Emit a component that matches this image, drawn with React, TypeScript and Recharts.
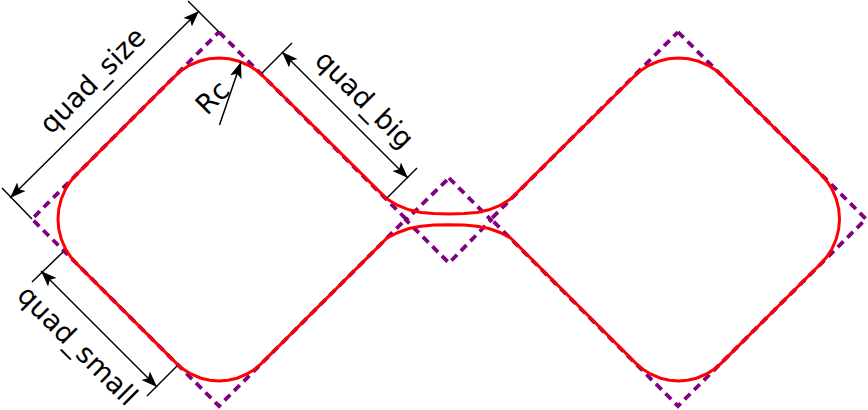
import { ComposedChart, Line, XAxis, YAxis } from 'recharts';

// everything is in picture units, y grows downward
type Pt = { x: number; y: number };

const quadLeft: Pt[] = [
  { x: 219, y: 32 }, { x: 406, y: 219 }, { x: 219, y: 406 }, { x: 32, y: 219 }, { x: 219, y: 32 },
];
const quadMiddle: Pt[] = [
  { x: 449, y: 178 }, { x: 491, y: 220 }, { x: 449, y: 263 }, { x: 406, y: 220 }, { x: 449, y: 178 },
];
const quadRight: Pt[] = [
  { x: 678, y: 32 }, { x: 866, y: 219 }, { x: 678, y: 406 }, { x: 491, y: 219 }, { x: 678, y: 32 },
];

// the outline, read clockwise from the top of the neck going left
const outline: Pt[] = [
  { x: 449, y: 214 }, { x: 434, y: 213.6 }, { x: 421, y: 212.4 }, { x: 409, y: 209.8 }, { x: 398, y: 205.5 }, { x: 387, y: 199 },
  { x: 263.5, y: 76.5 }, { x: 257, y: 70.8 }, { x: 249, y: 65.6 }, { x: 239, y: 61.3 }, { x: 229, y: 58.8 }, { x: 219, y: 58 },
  { x: 209, y: 58.8 }, { x: 199, y: 61.3 }, { x: 189, y: 65.6 }, { x: 181, y: 70.8 }, { x: 174.5, y: 76.5 },
  { x: 76.5, y: 174.5 }, { x: 70.8, y: 181 }, { x: 65.6, y: 189 }, { x: 61.3, y: 199 }, { x: 58.8, y: 209 }, { x: 58, y: 219 },
  { x: 58.8, y: 229 }, { x: 61.3, y: 239 }, { x: 65.6, y: 249 }, { x: 70.8, y: 257 }, { x: 76.5, y: 263.5 },
  { x: 176.5, y: 363.4 }, { x: 183, y: 369 }, { x: 191, y: 374 }, { x: 201, y: 378.2 }, { x: 210, y: 380.3 }, { x: 219, y: 381 },
  { x: 228, y: 380.3 }, { x: 237, y: 378.2 }, { x: 247, y: 374 }, { x: 255, y: 369 }, { x: 261.5, y: 363.4 },
  { x: 387, y: 238 }, { x: 398, y: 232.5 }, { x: 409, y: 228.5 }, { x: 421, y: 226.2 }, { x: 434, y: 225 }, { x: 449, y: 224.8 },
  { x: 464, y: 225 }, { x: 477, y: 226.2 }, { x: 489, y: 228.5 }, { x: 500, y: 232.5 }, { x: 510.5, y: 238 },
  { x: 636, y: 363.4 }, { x: 642.5, y: 369 }, { x: 650.5, y: 374 }, { x: 660.5, y: 378.2 }, { x: 669.5, y: 380.3 }, { x: 678.5, y: 381 },
  { x: 687.5, y: 380.3 }, { x: 696.5, y: 378.2 }, { x: 706.5, y: 374 }, { x: 714.5, y: 369 }, { x: 721, y: 363.4 },
  { x: 821, y: 263.5 }, { x: 826.7, y: 257 }, { x: 831.9, y: 249 }, { x: 836.2, y: 239 }, { x: 838.7, y: 229 }, { x: 839.5, y: 219 },
  { x: 838.7, y: 209 }, { x: 836.2, y: 199 }, { x: 831.9, y: 189 }, { x: 826.7, y: 181 }, { x: 821, y: 174.5 },
  { x: 723, y: 76.5 }, { x: 716.5, y: 70.8 }, { x: 708.5, y: 65.6 }, { x: 698.5, y: 61.3 }, { x: 688.5, y: 58.8 }, { x: 678.5, y: 58 },
  { x: 668.5, y: 58.8 }, { x: 658.5, y: 61.3 }, { x: 648.5, y: 65.6 }, { x: 640.5, y: 70.8 }, { x: 634, y: 76.5 },
  { x: 510.5, y: 199 }, { x: 500, y: 205.5 }, { x: 489, y: 209.8 }, { x: 477, y: 212.4 }, { x: 464, y: 213.6 }, { x: 449, y: 214 },
];

const extensionLines: Pt[][] = [
  [{ x: 188, y: 1 }, { x: 219, y: 32 }],
  [{ x: 2, y: 188 }, { x: 32, y: 219 }],
  [{ x: 262, y: 73 }, { x: 292, y: 43 }],
  [{ x: 387, y: 198 }, { x: 417, y: 168 }],
  [{ x: 63, y: 252 }, { x: 32, y: 282 }],
  [{ x: 177, y: 366 }, { x: 147, y: 396 }],
];

const dimensionLines: Pt[][] = [
  [{ x: 10, y: 198 }, { x: 199, y: 11 }],
  [{ x: 282, y: 52 }, { x: 408, y: 178 }],
  [{ x: 41, y: 271 }, { x: 157, y: 387 }],
];
const rcArrow: Pt[] = [{ x: 219.5, y: 125 }, { x: 241, y: 62 }];

const labels = [
  { x: 92, y: 80, text: 'quad_size', angle: -45 },
  { x: 365, y: 99, text: 'quad_big', angle: 45 },
  { x: 78, y: 345, text: 'quad_small', angle: 45 },
  { x: 212, y: 97, text: 'Rc', angle: -45 },
];

const renderLabel = (props: any) => {
  const { cx, cy, payload } = props;
  return (
    <text
      key={payload.text}
      x={cx}
      y={cy}
      textAnchor="middle"
      dominantBaseline="central"
      fontFamily="DejaVu Sans"
      fontSize={27.5}
      fill="#000"
      transform={`rotate(${payload.angle} ${cx} ${cy})`}
    >
      {payload.text}
    </text>
  );
};

export default function App() {
  const quadLine = (data: Pt[], name: string) => (
    <Line
      key={name}
      data={data}
      dataKey="y"
      type="linear"
      stroke="#800080"
      strokeWidth={3.8}
      strokeDasharray="8 5.5"
      dot={false}
      activeDot={false}
      isAnimationActive={false}
    />
  );

  return (
    <div style={{ position: 'absolute', left: 0, top: 0, width: 868, height: 410, background: '#fff' }}>
      <ComposedChart width={868} height={410} margin={{ top: 0, right: 0, bottom: 0, left: 0 }}>
        <defs>
          <marker id="head" viewBox="0 -7 16 14" refX="16" refY="0" markerWidth="16" markerHeight="14" markerUnits="userSpaceOnUse" orient="auto-start-reverse">
            <path d="M0,-6 L16,0 L0,6 L3.5,0 Z" fill="#000" />
          </marker>
        </defs>
        <XAxis type="number" dataKey="x" domain={[0, 868]} hide />
        <YAxis type="number" domain={[0, 410]} reversed hide />
        {quadLine(quadLeft, 'left')}
        {quadLine(quadMiddle, 'middle')}
        {quadLine(quadRight, 'right')}
        <Line data={outline} dataKey="y" type="linear" stroke="#ff0000" strokeWidth={3} dot={false} activeDot={false} isAnimationActive={false} />
        {extensionLines.map((d, i) => (
          <Line key={`ext${i}`} data={d} dataKey="y" type="linear" stroke="#000" strokeWidth={1.5} dot={false} activeDot={false} isAnimationActive={false} />
        ))}
        {dimensionLines.map((d, i) => (
          <Line key={`dim${i}`} data={d} dataKey="y" type="linear" stroke="#000" strokeWidth={1.5} dot={false} activeDot={false} markerStart="url(#head)" markerEnd="url(#head)" isAnimationActive={false} />
        ))}
        <Line data={rcArrow} dataKey="y" type="linear" stroke="#000" strokeWidth={1.5} dot={false} activeDot={false} markerEnd="url(#head)" isAnimationActive={false} />
        <Line data={labels} dataKey="y" stroke="none" dot={renderLabel} activeDot={false} isAnimationActive={false} />
      </ComposedChart>
    </div>
  );
}
